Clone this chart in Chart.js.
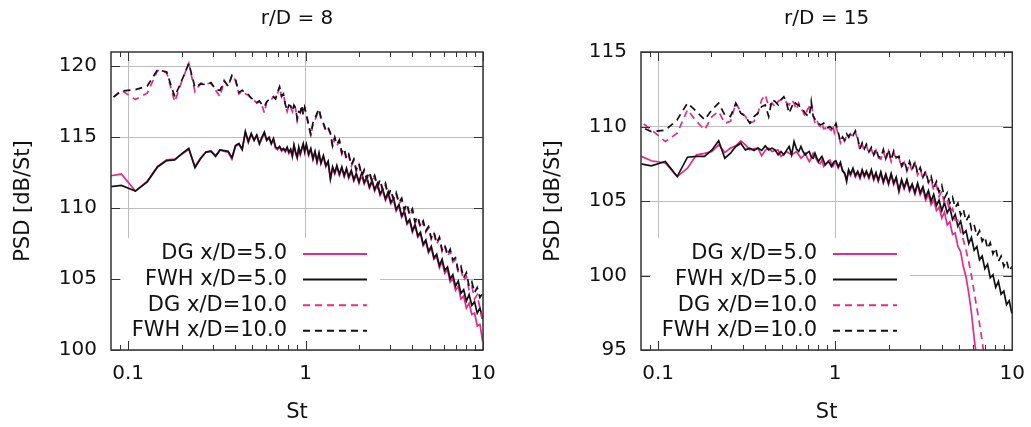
<!DOCTYPE html>
<html>
<head>
<meta charset="utf-8">
<script src="https://cdn.jsdelivr.net/npm/chart.js@4.4.1/dist/chart.umd.min.js"></script>
<style>
  html, body { margin: 0; padding: 0; background: #fff; }
  body { width: 1031px; height: 427px; position: relative; overflow: hidden; }
  canvas { position: absolute; top: 0; }
  #left { left: 0; }
  #right { left: 530px; }
</style>
</head>
<body>
<canvas id="left" width="515" height="427"></canvas>
<canvas id="right" width="507" height="427"></canvas>
<script>
// Strouhal numbers shared by every spectrum
const st = [
  0.0732, 0.0915, 0.1098, 0.1281, 0.1464, 0.1647, 0.1830, 0.2013, 0.2196, 0.2379,
  0.2562, 0.2745, 0.2928, 0.3111, 0.3294, 0.3477, 0.3660, 0.3843, 0.4026, 0.4209,
  0.4392, 0.4575, 0.4758, 0.4941, 0.5124, 0.5307, 0.5490, 0.5673, 0.5856, 0.6039,
  0.6222, 0.6405, 0.6588, 0.6771, 0.6954, 0.7137, 0.7320, 0.7503, 0.7686, 0.7869,
  0.8052, 0.8235, 0.8418, 0.8601, 0.8784, 0.8967, 0.9150, 0.9333, 0.9516, 0.9699,
  0.9882,
  1.01, 1.04, 1.07, 1.10, 1.13, 1.16, 1.19, 1.22, 1.26, 1.30,
  1.34, 1.38, 1.42, 1.46, 1.50, 1.55, 1.60, 1.65, 1.70, 1.75,
  1.81, 1.87, 1.93, 2.00, 2.07, 2.14, 2.21, 2.29, 2.37, 2.45,
  2.54, 2.63, 2.72, 2.82, 2.92, 3.02, 3.13, 3.24, 3.36, 3.48,
  3.60, 3.73, 3.86, 4.00, 4.14, 4.29, 4.44, 4.60, 4.76, 4.93,
  5.11, 5.29, 5.48, 5.68, 5.88, 6.09, 6.31, 6.53, 6.76, 7.00,
  7.25, 7.51, 7.78, 8.06, 8.35, 8.65, 8.96, 9.28, 9.61, 9.95
];

const seriesNames = ["DG x/D=5.0", "FWH x/D=5.0", "DG x/D=10.0", "FWH x/D=10.0"];
const xTicks = [0.1, 1, 10];
const xMinorTicks = [0.09, 0.2, 0.3, 0.4, 0.5, 0.6, 0.7, 0.8, 0.9, 2, 3, 4, 5, 6, 7, 8, 9];
const leftYTicks = [100, 105, 110, 115, 120];
const rightYTicks = [95, 100, 105, 110, 115];

// r/D = 8
const leftDG5 = [
  112.20, 112.40, 111.20, 111.90, 112.95, 113.40, 113.45, 113.80, 114.15, 112.95,
  113.55, 113.95, 114.05, 113.70, 114.10, 114.00, 113.95, 113.45, 114.35, 114.50,
  114.10, 115.30, 114.60, 115.20, 114.75, 115.10, 114.50, 114.90, 115.25, 114.75,
  114.95, 114.50, 114.85, 114.20, 114.10, 114.30, 114.00, 114.15, 113.95, 114.20,
  113.85, 114.10, 113.60, 114.40, 113.85, 113.50, 114.20, 113.75, 114.15, 114.45,
  113.90,
  114.40, 113.70, 114.10, 113.40, 113.90, 113.20, 113.80, 113.10, 113.60, 112.90,
  113.20, 112.00, 112.80, 112.40, 112.90, 112.30, 112.80, 112.20, 112.70, 112.10,
  112.55, 111.90, 112.35, 111.75, 112.35, 111.70, 112.10, 111.40, 111.85, 111.20,
  111.65, 110.90, 111.25, 110.55, 111.05, 110.30, 110.60, 109.80, 110.15, 109.35,
  109.70, 108.85, 109.10, 108.30, 108.75, 107.95, 108.20, 107.35, 107.65, 106.85,
  107.20, 106.40, 106.60, 105.80, 106.25, 105.40, 105.65, 104.80, 105.05, 104.20,
  104.50, 103.60, 103.80, 102.95, 103.30, 102.50, 102.60, 101.70, 101.80, 100.60
];
const leftFWH5 = [
  111.45, 111.60, 111.20, 111.85, 112.90, 113.35, 113.40, 113.85, 114.20, 112.85,
  113.50, 113.95, 114.00, 113.65, 114.10, 114.05, 114.00, 113.55, 114.40, 114.55,
  114.15, 115.40, 114.70, 115.25, 114.80, 115.15, 114.55, 115.00, 115.35, 114.80,
  115.00, 114.55, 114.90, 114.30, 114.20, 114.35, 114.10, 114.20, 114.05, 114.30,
  113.95, 114.15, 113.70, 114.45, 113.95, 113.60, 114.30, 113.85, 114.20, 114.55,
  114.00,
  114.50, 113.80, 114.20, 113.50, 114.00, 113.30, 113.90, 113.20, 113.70, 113.00,
  113.30, 112.10, 112.90, 112.50, 113.00, 112.40, 112.90, 112.30, 112.80, 112.20,
  112.65, 112.00, 112.45, 111.85, 112.45, 111.80, 112.20, 111.50, 111.95, 111.30,
  111.75, 111.00, 111.35, 110.65, 111.15, 110.40, 110.70, 109.90, 110.25, 109.45,
  109.80, 108.95, 109.20, 108.40, 108.85, 108.05, 108.30, 107.45, 107.75, 106.95,
  107.30, 106.50, 106.75, 105.95, 106.40, 105.60, 105.85, 105.00, 105.30, 104.50,
  104.85, 104.00, 104.25, 103.45, 103.90, 103.15, 103.40, 102.60, 102.95, 102.20
];
const leftDG10 = [
  117.30, 118.30, 117.65, 118.10, 119.70, 119.55, 117.50, 119.00, 120.20, 118.20,
  118.80, 118.75, 118.80, 118.30, 117.85, 119.00, 118.55, 119.35, 119.00, 118.05,
  118.25, 118.05, 117.95, 117.70, 117.60, 117.40, 117.50, 117.25, 116.70, 117.50,
  117.60, 117.65, 117.85, 117.70, 118.10, 118.55, 117.85, 118.05, 117.25, 116.80,
  117.25, 117.15, 116.80, 117.25, 117.00, 116.20, 116.80, 116.70, 117.25, 116.55,
  117.05,
  116.50, 115.80, 115.10, 115.90, 116.20, 116.60, 116.90, 116.30, 115.90, 115.40,
  115.60, 115.20, 114.30, 114.90, 114.40, 114.70, 113.80, 114.10, 113.40, 113.70,
  112.95, 113.35, 112.60, 113.05, 112.20, 112.60, 112.00, 112.45, 111.80, 112.20,
  111.45, 111.90, 111.20, 111.65, 110.80, 111.20, 110.55, 111.00, 110.30, 110.60,
  109.80, 110.20, 109.45, 109.85, 108.95, 109.30, 108.60, 109.00, 108.30, 108.60,
  107.80, 108.20, 107.45, 107.85, 106.95, 107.30, 106.60, 106.95, 106.20, 106.35,
  105.45, 105.70, 104.90, 105.20, 104.20, 104.50, 103.60, 103.90, 102.90, 102.00
];
const leftFWH10 = [
  117.30, 118.25, 118.35, 118.60, 119.75, 119.60, 117.85, 119.05, 120.20, 118.50,
  118.75, 118.70, 118.85, 118.35, 118.30, 118.95, 118.60, 119.35, 119.05, 118.15,
  118.30, 118.10, 118.00, 117.75, 117.60, 117.45, 117.55, 117.30, 117.15, 117.50,
  117.65, 117.70, 117.85, 117.70, 118.15, 118.55, 117.90, 118.05, 117.30, 116.90,
  117.25, 117.20, 116.85, 117.25, 117.05, 116.30, 116.80, 116.75, 117.25, 116.60,
  117.10,
  116.60, 115.90, 115.20, 116.00, 116.30, 116.70, 117.00, 116.40, 116.00, 115.50,
  115.70, 115.30, 114.40, 115.00, 114.50, 114.80, 113.90, 114.20, 113.50, 113.80,
  113.05, 113.45, 112.70, 113.15, 112.30, 112.70, 112.10, 112.55, 111.90, 112.30,
  111.55, 112.00, 111.30, 111.75, 110.90, 111.30, 110.65, 111.10, 110.40, 110.70,
  109.90, 110.30, 109.55, 109.95, 109.05, 109.40, 108.70, 109.10, 108.40, 108.70,
  107.90, 108.30, 107.55, 107.95, 107.05, 107.40, 106.70, 107.10, 106.35, 106.50,
  105.60, 105.90, 105.10, 105.45, 104.50, 104.80, 104.05, 104.40, 103.70, 104.00
];

// r/D = 15
const rightDG5 = [
  108.20, 107.70, 107.55, 106.64, 107.20, 108.10, 108.20, 108.32, 108.77, 108.25,
  108.55, 108.70, 109.04, 108.77, 108.43, 108.50, 108.55, 108.03, 108.40, 108.55,
  108.32, 108.38, 108.43, 107.99, 108.15, 108.32, 108.20, 108.10, 108.20, 108.32,
  108.10, 107.87, 108.00, 108.21, 107.90, 107.65, 107.85, 108.21, 108.00, 107.76,
  107.55, 107.50, 107.76, 107.32, 107.45, 107.54, 107.70, 107.76, 107.50, 107.32,
  107.50,
  107.60, 107.20, 107.50, 107.10, 106.80, 106.50, 107.00, 106.70, 107.10, 106.60,
  106.90, 106.50, 107.00, 106.60, 106.90, 106.50, 107.00, 106.40, 106.80, 106.30,
  106.85, 106.20, 106.70, 106.10, 106.75, 106.10, 106.50, 105.60, 106.35, 105.80,
  106.35, 105.65, 106.05, 105.45, 106.10, 105.40, 105.80, 105.05, 105.45, 104.75,
  105.10, 104.35, 104.60, 103.85, 104.25, 103.40, 103.60, 102.75, 102.85, 101.95,
  101.60, 100.60, 99.90, 98.80, 97.50, 95.80, 94.30, 91.80, 89.50, null,
  null, null, null, null, null, null, null, null, null, null
];
const rightFWH5 = [
  107.57, 107.36, 107.65, 106.64, 107.94, 107.99, 107.99, 108.43, 109.04, 107.87,
  108.21, 108.66, 108.88, 108.43, 108.55, 108.39, 108.55, 108.39, 108.70, 108.43,
  108.55, 108.43, 108.10, 108.32, 108.10, 108.40, 108.66, 108.10, 108.99, 108.50,
  108.32, 108.66, 108.30, 108.10, 108.25, 108.32, 107.95, 107.87, 108.21, 107.90,
  107.65, 107.85, 107.99, 107.70, 107.43, 107.55, 107.65, 107.50, 107.32, 107.50,
  107.65,
  107.70, 107.30, 107.60, 107.00, 106.90, 106.30, 107.10, 106.80, 107.20, 106.70,
  107.00, 106.60, 107.10, 106.70, 107.00, 106.60, 107.10, 106.50, 106.90, 106.40,
  106.95, 106.30, 106.80, 106.20, 106.85, 106.20, 106.60, 105.70, 106.45, 105.90,
  106.45, 105.75, 106.15, 105.55, 106.20, 105.55, 105.95, 105.25, 105.70, 105.00,
  105.45, 104.70, 105.05, 104.35, 104.90, 104.20, 104.55, 103.75, 104.10, 103.30,
  103.65, 102.80, 103.00, 102.15, 102.55, 101.70, 101.95, 101.05, 101.30, 100.45,
  100.75, 99.85, 100.05, 99.20, 99.60, 98.75, 98.95, 98.05, 98.30, 97.45
];
const rightDG10 = [
  110.65, 109.78, 108.99, 109.55, 111.12, 110.34, 109.78, 110.67, 111.00, 110.22,
  110.34, 111.57, 111.00, 110.67, 110.22, 110.34, 110.89, 111.79, 112.13, 111.34,
  111.57, 111.34, 111.68, 111.79, 111.90, 111.60, 111.45, 111.79, 111.57, 111.12,
  111.57, 111.23, 111.00, 110.67, 111.12, 111.34, 111.57, 110.78, 110.22, 110.45,
  110.11, 110.00, 110.20, 109.85, 109.90, 109.70, 109.95, 109.80, 109.75, 110.10,
  109.60,
  110.00, 109.50, 108.90, 109.20, 109.00, 109.40, 109.20, 109.50, 109.30, 109.60,
  109.10, 108.40, 108.80, 108.40, 108.70, 108.20, 108.50, 108.00, 108.40, 107.90,
  107.80, 108.35, 107.75, 108.35, 107.65, 108.25, 107.80, 107.90, 107.25, 107.60,
  107.00, 107.55, 107.00, 107.55, 106.75, 107.15, 106.50, 106.90, 106.20, 106.50,
  105.70, 106.05, 105.30, 105.65, 104.80, 105.00, 104.30, 104.50, 103.70, 103.70,
  102.90, 102.40, 101.70, 100.90, 100.00, 98.90, 97.80, 96.80, 95.60, 94.20,
  92.50, 90.50, null, null, null, null, null, null, null, null
];
const rightFWH10 = [
  110.18, 109.66, 109.75, 110.45, 111.57, 111.00, 110.45, 111.12, 111.57, 110.78,
  110.67, 111.57, 110.89, 110.67, 110.22, 110.67, 110.89, 111.34, 111.45, 110.67,
  111.79, 111.68, 111.45, 111.80, 112.00, 111.60, 110.89, 111.30, 111.68, 111.50,
  111.45, 111.20, 111.10, 110.89, 110.75, 110.67, 111.68, 110.70, 110.50, 110.34,
  110.20, 110.11, 110.15, 110.22, 110.00, 109.89, 109.95, 110.00, 109.90, 109.78,
  110.00,
  110.20, 109.60, 109.00, 109.30, 109.10, 109.50, 109.30, 109.60, 109.40, 109.70,
  109.20, 108.50, 108.90, 108.50, 108.80, 108.30, 108.60, 108.10, 108.50, 108.00,
  107.90, 108.45, 107.85, 108.45, 107.75, 108.35, 107.90, 108.00, 107.35, 107.70,
  107.10, 107.65, 107.10, 107.65, 106.85, 107.25, 106.60, 107.00, 106.30, 106.65,
  105.90, 106.30, 105.60, 106.05, 105.20, 105.55, 104.85, 105.25, 104.55, 104.85,
  104.05, 104.45, 103.65, 104.00, 103.10, 103.40, 102.65, 103.00, 102.30, 102.60,
  101.80, 102.20, 101.45, 101.85, 100.95, 101.30, 100.60, 101.00, 100.30, 100.60
];

const PINK = "#e7298a";
const INK = "#111111";
const FAMILY = "'DejaVu Sans', sans-serif";

const lineStyles = [
  { color: PINK, dash: [] },
  { color: INK, dash: [] },
  { color: PINK, dash: [7, 5] },
  { color: INK, dash: [7, 5] },
];

const toPoints = (ys) => st.map((x, i) => ({ x: x, y: ys[i] }));

// gnuplot look: opaque key box, inward ticks, frame, key entries
const framePlugin = {
  id: "frame",
  beforeDatasetsDraw(chart) {
    const { ctx, chartArea: a } = chart;
    ctx.save();
    ctx.fillStyle = "#ffffff";
    ctx.fillRect(a.left + 10, a.top + 186, 259, a.bottom - a.top - 186);
    ctx.restore();
  },
  afterDatasetsDraw(chart) {
    const { ctx, chartArea: a, scales } = chart;
    const xs = scales.x;
    const ys = scales.y;
    ctx.save();
    ctx.strokeStyle = "#333333";
    ctx.lineWidth = 1;
    ctx.beginPath();
    const seg = (x0, y0, x1, y1) => {
      ctx.moveTo(x0, y0);
      ctx.lineTo(x1, y1);
    };
    xTicks.forEach((v) => {
      const px = Math.round(xs.getPixelForValue(v)) + 0.5;
      seg(px, a.bottom, px, a.bottom - 9);
      seg(px, a.top, px, a.top + 9);
    });
    xMinorTicks.forEach((v) => {
      const px = Math.round(xs.getPixelForValue(v)) + 0.5;
      seg(px, a.bottom, px, a.bottom - 5);
      seg(px, a.top, px, a.top + 5);
    });
    ys.ticks.forEach((t) => {
      const py = Math.round(ys.getPixelForValue(t.value)) + 0.5;
      seg(a.left, py, a.left + 9, py);
      seg(a.right, py, a.right - 9, py);
    });
    ctx.stroke();

    ctx.lineWidth = 1.5;
    ctx.strokeRect(a.left, a.top, a.right - a.left, a.bottom - a.top);

    ctx.font = "21px " + FAMILY;
    ctx.textAlign = "right";
    ctx.textBaseline = "middle";
    ctx.fillStyle = INK;
    seriesNames.forEach((name, i) => {
      const ry = a.top + 202 + i * 25.6;
      ctx.fillText(name, a.left + 176, ry);
      ctx.strokeStyle = lineStyles[i].color;
      ctx.setLineDash(lineStyles[i].dash);
      ctx.lineWidth = 2;
      ctx.beginPath();
      ctx.moveTo(a.left + 192, ry);
      ctx.lineTo(a.left + 256, ry);
      ctx.stroke();
    });
    ctx.setLineDash([]);
    ctx.restore();
  },
};

const tickFont = { family: FAMILY, size: 20 };

function drawPanel(canvasId, title, yMin, yMax, yTicks, series, padRight) {
  return new Chart(document.getElementById(canvasId), {
    type: "line",
    data: {
      datasets: series.map((ys, i) => ({
        label: seriesNames[i],
        data: toPoints(ys),
        borderColor: lineStyles[i].color,
        borderDash: lineStyles[i].dash,
        borderWidth: 1.7,
        pointRadius: 0,
        tension: 0,
        order: 3 - i,
      })),
    },
    options: {
      responsive: false,
      animation: false,
      events: [],
      layout: { padding: { left: 0, right: padRight, top: 0, bottom: 0 } },
      plugins: {
        legend: { display: false },
        tooltip: { enabled: false },
        title: {
          display: true,
          text: title,
          fullSize: false,
          color: INK,
          font: { family: FAMILY, size: 20, weight: "normal" },
          padding: { top: 7, bottom: 21 },
        },
      },
      scales: {
        x: {
          type: "logarithmic",
          min: 0.08,
          max: 10,
          afterBuildTicks: (s) => {
            s.ticks = xTicks.map((v) => ({ value: v }));
          },
          afterFit: (s) => {
            s.height = 77;
          },
          ticks: {
            callback: (v) => String(v),
            autoSkip: false,
            maxRotation: 0,
            padding: 12,
            color: INK,
            font: tickFont,
          },
          grid: { color: "#bdbdbd", drawTicks: false },
          border: { display: false },
          title: {
            display: true,
            text: "St",
            color: INK,
            font: { family: FAMILY, size: 21 },
            padding: { top: 0, bottom: 2 },
          },
        },
        y: {
          type: "linear",
          min: yMin,
          max: yMax,
          afterBuildTicks: (s) => {
            s.ticks = yTicks.map((v) => ({ value: v }));
          },
          afterFit: (s) => {
            s.width = 111;
          },
          ticks: { padding: 14, color: INK, font: tickFont },
          grid: { color: "#bdbdbd", drawTicks: false },
          border: { display: false },
          title: {
            display: true,
            text: "PSD [dB/St]",
            color: INK,
            font: { family: FAMILY, size: 21 },
            padding: { top: 11, bottom: 0 },
          },
        },
      },
    },
    plugins: [framePlugin],
  });
}

drawPanel("left", "r/D = 8", 100, 121, leftYTicks, [leftDG5, leftFWH5, leftDG10, leftFWH10], 32);
drawPanel("right", "r/D = 15", 95, 115, rightYTicks, [rightDG5, rightFWH5, rightDG10, rightFWH10], 0);
</script>
</body>
</html>
